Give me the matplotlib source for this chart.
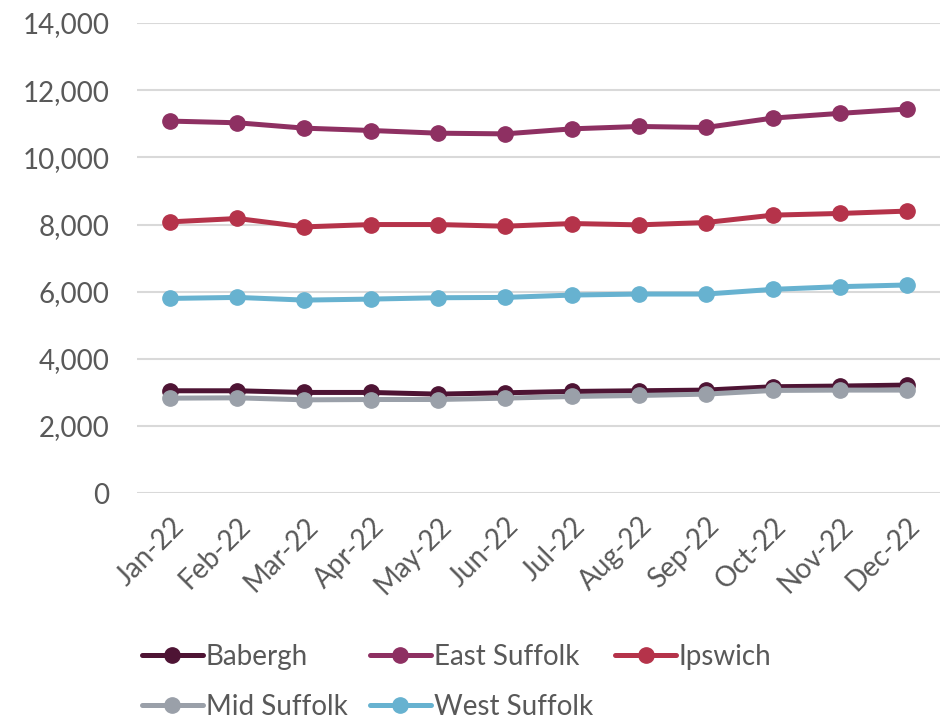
import matplotlib.pyplot as plt

# ---------------------------------------------------------------------
# Data
# ---------------------------------------------------------------------
months = ['Jan-22', 'Feb-22', 'Mar-22', 'Apr-22', 'May-22', 'Jun-22',
          'Jul-22', 'Aug-22', 'Sep-22', 'Oct-22', 'Nov-22', 'Dec-22']

babergh = [3050, 3050, 3000, 3000, 2950, 2990, 3030, 3050, 3070, 3170, 3190, 3220]
east_suffolk = [11080, 11030, 10870, 10800, 10720, 10700, 10850, 10920, 10890, 11170, 11310, 11440]
ipswich = [8080, 8180, 7930, 8000, 8000, 7950, 8030, 7990, 8060, 8280, 8330, 8400]
mid_suffolk = [2830, 2840, 2780, 2790, 2790, 2830, 2880, 2910, 2950, 3060, 3070, 3070]
west_suffolk = [5800, 5830, 5750, 5780, 5820, 5830, 5900, 5930, 5930, 6070, 6150, 6200]

series = [
    ('Babergh', babergh, '#4E1434'),
    ('East Suffolk', east_suffolk, '#8E3062'),
    ('Ipswich', ipswich, '#B5334A'),
    ('Mid Suffolk', mid_suffolk, '#9AA0A9'),
    ('West Suffolk', west_suffolk, '#67B2D0'),
]

TEXT = '#595959'
plt.rcParams['font.family'] = ['Lato', 'DejaVu Sans']

fig = plt.figure(figsize=(9.45, 7.2), dpi=100)
ax = fig.add_axes([0.145, 0.315, 0.85, 0.653])

x = list(range(len(months)))
handles = {}
for name, vals, col in series:
    line, = ax.plot(x, vals, color=col, lw=3.6, marker='o', markersize=11,
                    solid_capstyle='round', label=name)
    handles[name] = line

ax.set_xlim(-0.5, len(months) - 0.5)
ax.set_ylim(0, 14000)
ax.set_yticks(range(0, 14001, 2000))
ax.set_yticklabels([f'{v:,}' for v in range(0, 14001, 2000)])
ax.set_xticks(x)
ax.set_xticklabels(months, rotation=45, ha='right', rotation_mode='anchor')

ax.grid(axis='y', color='#D9D9D9', lw=1.5)
ax.set_axisbelow(True)
for s in ax.spines.values():
    s.set_visible(False)
ax.tick_params(axis='both', length=0, labelsize=20, colors=TEXT)
ax.tick_params(axis='y', pad=20)
ax.tick_params(axis='x', pad=14)

# legend filled row by row (matplotlib fills column by column)
order = ['Babergh', 'Mid Suffolk', 'East Suffolk', 'West Suffolk', 'Ipswich']
leg = fig.legend([handles[n] for n in order], order,
                 loc='upper left', bbox_to_anchor=(0.15, 0.106), ncol=3,
                 frameon=False, fontsize=20, handlelength=2.2,
                 handletextpad=0.1, columnspacing=0.8, labelspacing=0.86,
                 borderaxespad=0, borderpad=0)
for t in leg.get_texts():
    t.set_color(TEXT)

fig.savefig('out.png', dpi=100)
